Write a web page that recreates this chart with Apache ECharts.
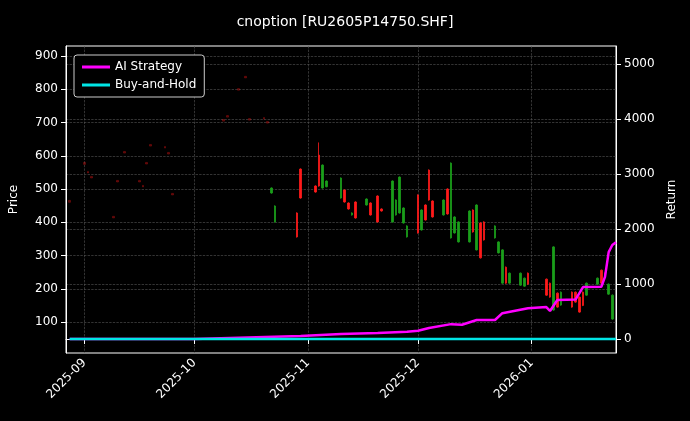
<!DOCTYPE html>
<html>
<head>
<meta charset="utf-8">
<script src="https://cdn.jsdelivr.net/npm/echarts@6/dist/echarts.min.js"></script>
<style>html,body{margin:0;background:#000;}#main{width:690px;height:421px;}</style>
</head>
<body>
<div id="main"></div>
<script>
// K线: [日期, 开, 收, 低, 高]
var dimCandles = [
    ['2025-08-28', 460, 466, 460, 466], ['2025-09-01', 574, 580, 574, 580], ['2025-09-02', 548, 553, 548, 553],
    ['2025-09-03', 533, 538, 533, 538], ['2025-09-09', 413, 418, 413, 418], ['2025-09-10', 521, 526, 521, 526],
    ['2025-09-12', 608, 613, 608, 613], ['2025-09-16', 521, 526, 521, 526], ['2025-09-17', 506, 511, 506, 511],
    ['2025-09-18', 575, 580, 575, 580], ['2025-09-19', 629, 634, 629, 634], ['2025-09-23', 623, 628, 623, 628],
    ['2025-09-24', 605, 610, 605, 610], ['2025-09-25', 482, 487, 482, 487], ['2025-10-09', 704, 709, 704, 709],
    ['2025-10-10', 716, 721, 716, 721], ['2025-10-13', 797, 802, 797, 802], ['2025-10-15', 834, 839, 834, 839],
    ['2025-10-16', 707, 712, 707, 712], ['2025-10-20', 710, 715, 710, 715], ['2025-10-21', 698, 703, 698, 703]
];
var candles = [
    ['2025-10-22', 503, 488, 486, 505], ['2025-10-23', 449, 401, 399, 451], ['2025-10-29', 356, 428, 354, 430],
    ['2025-10-30', 473, 560, 471, 562], ['2025-11-03', 491, 509, 489, 511], ['2025-11-04', 509, 602, 507, 640],
    ['2025-11-05', 572, 503, 501, 574], ['2025-11-06', 524, 507, 505, 526], ['2025-11-10', 533, 473, 471, 535],
    ['2025-11-11', 461, 497, 459, 499], ['2025-11-12', 440, 458, 438, 460], ['2025-11-13', 428, 422, 420, 430],
    ['2025-11-14', 413, 461, 411, 463], ['2025-11-17', 470, 452, 450, 472], ['2025-11-18', 422, 458, 420, 460],
    ['2025-11-20', 401, 479, 399, 481], ['2025-11-21', 434, 440, 432, 442], ['2025-11-24', 524, 401, 399, 526],
    ['2025-11-25', 467, 422, 420, 469], ['2025-11-26', 536, 428, 426, 538], ['2025-11-27', 443, 398, 396, 445],
    ['2025-11-28', 389, 356, 354, 391], ['2025-12-01', 368, 482, 366, 484], ['2025-12-02', 437, 377, 375, 439],
    ['2025-12-03', 407, 452, 405, 454], ['2025-12-04', 467, 557, 465, 559], ['2025-12-05', 416, 464, 414, 466],
    ['2025-12-08', 467, 422, 420, 469], ['2025-12-09', 425, 500, 423, 502], ['2025-12-10', 578, 353, 351, 580],
    ['2025-12-11', 416, 368, 366, 418], ['2025-12-12', 401, 341, 339, 403], ['2025-12-15', 434, 341, 339, 436],
    ['2025-12-16', 371, 437, 369, 439], ['2025-12-17', 452, 317, 315, 454], ['2025-12-18', 293, 398, 291, 400],
    ['2025-12-19', 347, 401, 345, 403], ['2025-12-22', 389, 353, 351, 391], ['2025-12-23', 341, 308, 306, 343],
    ['2025-12-24', 317, 217, 215, 319], ['2025-12-25', 217, 265, 215, 267], ['2025-12-26', 247, 217, 215, 249],
    ['2025-12-29', 247, 211, 209, 249], ['2025-12-30', 232, 208, 206, 234], ['2025-12-31', 214, 247, 212, 249],
    ['2026-01-05', 181, 229, 179, 231], ['2026-01-06', 175, 217, 173, 219], ['2026-01-07', 326, 136, 134, 328],
    ['2026-01-08', 145, 187, 143, 189], ['2026-01-09', 190, 151, 149, 192], ['2026-01-12', 145, 190, 143, 192],
    ['2026-01-13', 160, 190, 158, 192], ['2026-01-14', 130, 175, 128, 177], ['2026-01-15', 150, 190, 148, 192],
    ['2026-01-16', 217, 181, 179, 219], ['2026-01-19', 232, 214, 212, 234], ['2026-01-20', 217, 256, 215, 258],
    ['2026-01-21', 235, 247, 233, 249], ['2026-01-22', 214, 184, 182, 216], ['2026-01-23', 181, 109, 107, 183]
];
// 收益曲线
var aiDates = ['2025-08-28', '2025-10-01', '2025-10-30', '2025-11-10', '2025-11-20', '2025-11-28', '2025-12-01',
    '2025-12-04', '2025-12-10', '2025-12-13', '2025-12-17', '2025-12-22', '2025-12-24', '2025-12-31', '2026-01-05',
    '2026-01-06', '2026-01-08', '2026-01-13', '2026-01-15', '2026-01-20', '2026-01-21', '2026-01-22', '2026-01-23', '2026-01-24'];
var aiValues = [0, 0, 55, 90, 110, 130, 150, 200, 270, 260, 345, 345, 470, 560, 580, 510, 710, 720, 945, 950, 1130, 1580, 1710, 1760];
var bhDates = ['2025-08-28', '2026-01-24'];
var bhValues = [0, 0];
var priceTicks = [100, 200, 300, 400, 500, 600, 700, 800, 900];
var returnTicks = [0, 1000, 2000, 3000, 4000, 5000];

function pairs(d, v) {
    var r = [];
    for (var i = 0; i < d.length; i++) r.push([d[i], v[i]]);
    return r;
}
var kdata = [];
dimCandles.forEach(function (c) { kdata.push({ value: c, itemStyle: { opacity: 0.3 } }); });
candles.forEach(function (c) { kdata.push({ value: c }); });

var myChart = echarts.init(document.getElementById('main'));
var gridLine = { show: true, lineStyle: { color: '#555', type: 'dashed', width: 0.6 } };
var option = {
    backgroundColor: '#000',
    animation: false,
    title: { text: 'cnoption [RU2605P14750.SHF]', left: 'center', top: 10, textStyle: { color: '#fff', fontSize: 14, fontWeight: 'normal', fontFamily: 'DejaVu Sans' } },
    legend: {
        left: 74, top: 55, orient: 'vertical', itemGap: 6, itemWidth: 28, itemHeight: 3,
        backgroundColor: '#000', borderColor: '#ccc', borderWidth: 1, borderRadius: 3, padding: [6, 8],
        textStyle: { color: '#fff', fontSize: 12, fontFamily: 'DejaVu Sans' },
        data: [{ name: 'AI Strategy', icon: 'rect' }, { name: 'Buy-and-Hold', icon: 'rect' }]
    },
    grid: { left: 66, right: 74, top: 46, bottom: 68, show: true, borderColor: '#fff', borderWidth: 1 },
    xAxis: {
        type: 'time', min: '2025-08-27', max: '2026-01-24',
        axisLine: { lineStyle: { color: '#fff' } }, axisTick: { lineStyle: { color: '#fff' } },
        axisLabel: { color: '#fff', rotate: 45, fontSize: 12, fontFamily: 'DejaVu Sans', formatter: '{yyyy}-{MM}', hideOverlap: true },
        splitLine: gridLine
    },
    yAxis: [{
        type: 'value', min: 7, max: 930, name: 'Price', nameLocation: 'middle', nameGap: 46,
        nameTextStyle: { color: '#fff', fontSize: 12, fontFamily: 'DejaVu Sans' },
        axisLine: { show: true, lineStyle: { color: '#fff' } },
        axisTick: { show: true, customValues: priceTicks, lineStyle: { color: '#fff' } },
        axisLabel: { color: '#fff', customValues: priceTicks, fontSize: 12, fontFamily: 'DejaVu Sans' },
        splitLine: gridLine
    }, {
        type: 'value', min: -255, max: 5330, name: 'Return', nameLocation: 'middle', nameGap: 50,
        nameTextStyle: { color: '#fff', fontSize: 12, fontFamily: 'DejaVu Sans' },
        axisLine: { show: true, lineStyle: { color: '#fff' } },
        axisTick: { show: true, customValues: returnTicks, lineStyle: { color: '#fff' } },
        axisLabel: { color: '#fff', customValues: returnTicks, fontSize: 12, fontFamily: 'DejaVu Sans', formatter: function (v) { return String(v); } },
        splitLine: gridLine
    }],
    series: [{
        name: 'K', type: 'candlestick', data: kdata, barMaxWidth: 2,
        itemStyle: { color: '#ff1a1a', color0: '#1a9e1a', borderColor: '#ff1a1a', borderColor0: '#1a9e1a', borderWidth: 0.8 }
    }, {
        name: 'AI Strategy', type: 'line', yAxisIndex: 1, data: pairs(aiDates, aiValues), showSymbol: false,
        lineStyle: { color: '#ff00ff', width: 2.5 }, itemStyle: { color: '#ff00ff' }
    }, {
        name: 'Buy-and-Hold', type: 'line', yAxisIndex: 1, data: pairs(bhDates, bhValues), showSymbol: false,
        lineStyle: { color: '#00e5e5', width: 2.5 }, itemStyle: { color: '#00e5e5' }
    }]
};
myChart.setOption(option);
</script>
</body>
</html>
